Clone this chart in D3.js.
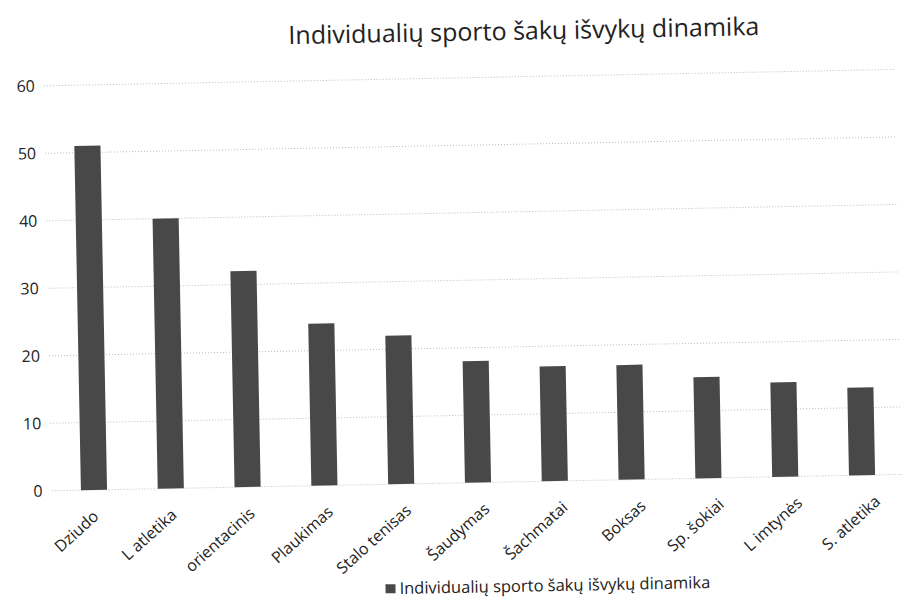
<!DOCTYPE html>
<html>
<head>
<meta charset="utf-8">
<script src="https://cdn.jsdelivr.net/npm/d3@7"></script>
<style>
	body { margin: 0; background: #fff; }
	text { font-family: "Open Sans", "Noto Sans", sans-serif; fill: #222; }
	.grid line { stroke: #bbb; stroke-dasharray: 1 2; }
</style>
</head>
<body>
<svg id="chart" width="906" height="601"></svg>
<script>
// the values
var sports = ['Dziudo', 'L atletika', 'orientacinis', 'Plaukimas', 'Stalo tenisas', 'Šaudymas',
	'Šachmatai', 'Boksas', 'Sp. šokiai', 'L imtynės', 'S. atletika'];
var trips = [51, 40, 32, 24, 22, 18, 17, 17, 15, 14, 13];
var yTicks = [0, 10, 20, 30, 40, 50, 60];
var chartTitle = 'Individualių sporto šakų išvykų dinamika';

var svg = d3.select('#chart');
// the scan is a bit tilted
var g = svg.append('g').attr('transform', 'rotate(-1.1, 453, 300)');

var x = d3.scaleBand().domain(sports).range([52, 897]).paddingInner(0.66).paddingOuter(0.33);
var y = d3.scaleLinear().domain([0, 60]).range([483, 78]);
// labels sit a little to the right of the bars in the scan
var xLabel = d3.scalePoint().domain(sports).range([95, 877]);

// gridlines
g.append('g')
	.attr('class', 'grid')
	.selectAll('line')
	.data(yTicks)
	.enter()
	.append('line')
	.attr('x1', 48)
	.attr('x2', 898)
	.attr('y1', function (d) { return y(d); })
	.attr('y2', function (d) { return y(d); });

// y axis labels
var yAxis = g.append('g')
	.attr('transform', 'translate(39,0)')
	.call(d3.axisLeft(y).tickValues(yTicks).tickSize(0).tickPadding(0));
yAxis.select('.domain').remove();
yAxis.selectAll('text').style('font-size', '16px');

// bars
g.selectAll('.bar')
	.data(trips)
	.enter()
	.append('rect')
	.attr('class', 'bar')
	.attr('x', function (d, i) { return x(sports[i]); })
	.attr('width', x.bandwidth())
	.attr('y', function (d) { return y(d); })
	.attr('height', function (d) { return y(0) - y(d); })
	.attr('fill', '#484848');

// x labels
var xAxis = g.append('g')
	.attr('transform', 'translate(0,' + (y(0) + 28) + ')')
	.call(d3.axisBottom(xLabel).tickSize(0).tickPadding(0));
xAxis.select('.domain').remove();
xAxis.selectAll('text')
	.style('font-size', '16px')
	.style('text-anchor', 'end')
	.attr('y', 0)
	.attr('dy', 0)
	.attr('transform', 'rotate(-41)');

// title
g.append('text')
	.attr('x', 529)
	.attr('y', 41)
	.attr('text-anchor', 'middle')
	.style('font-size', '25px')
	.text(chartTitle);

// legend
var legend = g.append('g').attr('transform', 'translate(550,593)');
legend.append('rect')
	.attr('x', -170)
	.attr('y', -10)
	.attr('width', 10)
	.attr('height', 9)
	.attr('fill', '#484848');
legend.append('text')
	.attr('x', -156)
	.attr('y', 0)
	.style('font-size', '16.5px')
	.text(chartTitle);
</script>
</body>
</html>
